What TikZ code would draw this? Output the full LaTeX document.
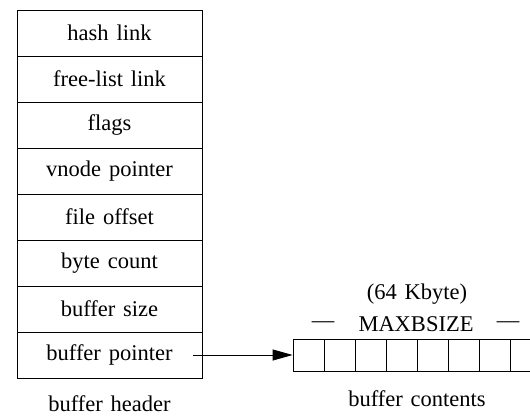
\documentclass[tikz,border=0pt]{standalone}
\usepackage{fontspec}
\setmainfont[WordSpace=1.4]{Liberation Serif}
\usetikzlibrary{arrows.meta, positioning}
\tikzset{
  every picture/.style={line width=0.8pt, x=1pt, y=-1pt},
  txt/.style={font=\fontsize{22.5}{26}\selectfont},
  field/.style={draw, txt, minimum width=185pt, minimum height=46pt, inner sep=0pt},
  cell/.style={draw, minimum width=31pt, minimum height=32pt, inner sep=0pt},
  arrow/.style={-{Triangle[length=20pt, width=11pt]}},
}

\begin{document}
\begin{tikzpicture}
  \clip (0,0) rectangle (530,420);
  % buffer header
  \foreach \i/\t in {1/hash link, 2/free-list link, 3/flags, 4/vnode pointer,
                     5/file offset, 6/byte count, 7/buffer size, 8/buffer pointer}
    \node[field] (f\i) at (109.5, 10+46*\i-23) {\t};
  \node[txt, below=14pt of f8] (hdr) {buffer header};
  % buffer contents
  \foreach \i in {1,...,8}
    \node[cell] (c\i) at (308.5+31*\i-31, 355) {};
  \draw[arrow] ([xshift=-9pt]f8.east) -- (c1.west);
  \node[txt] (max) at (416, 324) {MAXBSIZE};
  \node[txt] (kb) at (417, 294) {(64 Kbyte)};
  \node[txt] (dl) at (323, 325) {---};
  \node[txt] (dr) at (508, 325) {---};
  \node[txt] (cnt) at (417, 399) {buffer contents};
\end{tikzpicture}
\end{document}
